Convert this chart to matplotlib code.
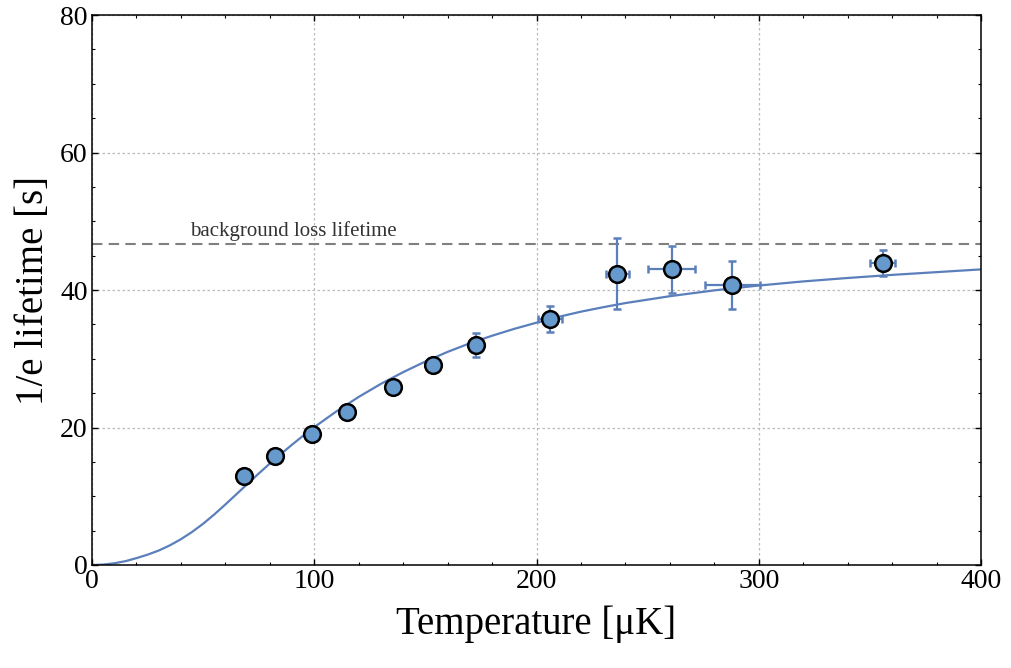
import matplotlib
matplotlib.use("Agg")
import matplotlib.pyplot as plt
from matplotlib.ticker import MultipleLocator

plt.rcParams["font.family"] = ["Liberation Serif", "DejaVu Serif"]

# measured points
temp = [68.2, 82.3, 99.2, 114.6, 135.4, 153.5, 172.8, 206.1, 236.4, 260.8, 288.1, 355.7]
lifetime = [13.0, 15.9, 19.0, 22.3, 25.9, 29.1, 32.0, 35.8, 42.4, 43.0, 40.7, 43.9]
temp_err = [2.5, 2.5, 2.5, 2.5, 3.0, 3.0, 3.0, 5.5, 5.2, 10.5, 12.4, 5.6]
lifetime_err = [0.6, 0.6, 0.7, 0.7, 0.8, 0.8, 1.7, 1.9, 5.1, 3.4, 3.5, 1.9]

# fitted model curve
fit_temp = [0, 5, 10, 15, 20, 25, 30, 35, 40, 45, 50, 55, 60, 65, 70, 75, 80,
            85, 90, 95, 100, 110, 120, 130, 140, 150, 160, 170, 180, 190, 200,
            210, 220, 230, 240, 260, 280, 300, 320, 340, 360, 380, 400]
fit_lifetime = [0.0, 0.06, 0.25, 0.55, 1.0, 1.5, 2.1, 2.85, 3.75, 4.8, 6.0, 7.35,
                8.8, 10.3, 11.8, 13.3, 14.75, 16.15, 17.5, 18.8, 20.05, 22.35,
                24.45, 26.35, 28.05, 29.6, 31.0, 32.25, 33.35, 34.35, 35.25,
                36.1, 36.85, 37.5, 38.1, 39.1, 39.95, 40.65, 41.25, 41.75, 42.2,
                42.6, 43.0]

background_lifetime = 46.7

line_col = "#5a7fbb"
face_col = "#6699cc"

fig = plt.figure(figsize=(10.12, 6.68), dpi=100)
ax = fig.add_axes([0.0909, 0.1542, 0.8785, 0.8233])

ax.plot(fit_temp, fit_lifetime, color=line_col, lw=1.6, zorder=2)
ax.axhline(background_lifetime, color="#808080", lw=1.5, ls=(0, (5, 3)), zorder=2)
ax.text(44, 47.8, "background loss lifetime", fontsize=15, color="#333333")

ax.errorbar(temp, lifetime, xerr=temp_err, yerr=lifetime_err, fmt="o",
            color=line_col, ecolor=line_col, elinewidth=1.6, capsize=2.8,
            capthick=1.6, markersize=12, markerfacecolor=face_col,
            markeredgecolor="black", markeredgewidth=1.8, zorder=3)

ax.set_xlim(0, 400)
ax.set_ylim(0, 80)
ax.xaxis.set_major_locator(MultipleLocator(100))
ax.xaxis.set_minor_locator(MultipleLocator(20))
ax.yaxis.set_major_locator(MultipleLocator(20))
ax.yaxis.set_minor_locator(MultipleLocator(5))
ax.tick_params(which="both", direction="in", top=True, right=True, labelsize=20, pad=3)
ax.tick_params(which="major", length=4, width=1)
ax.tick_params(which="minor", length=2.5, width=0.8)
for s in ax.spines.values():
    s.set_linewidth(1.1)
ax.grid(True, which="major", color="#bbbbbb", ls=(0, (2, 2)), lw=0.9)

ax.set_xlabel("Temperature [μK]", fontsize=28, labelpad=8)
ax.set_ylabel("1/e lifetime [s]", fontsize=28, labelpad=6)

fig.savefig("out.png", dpi=100)
